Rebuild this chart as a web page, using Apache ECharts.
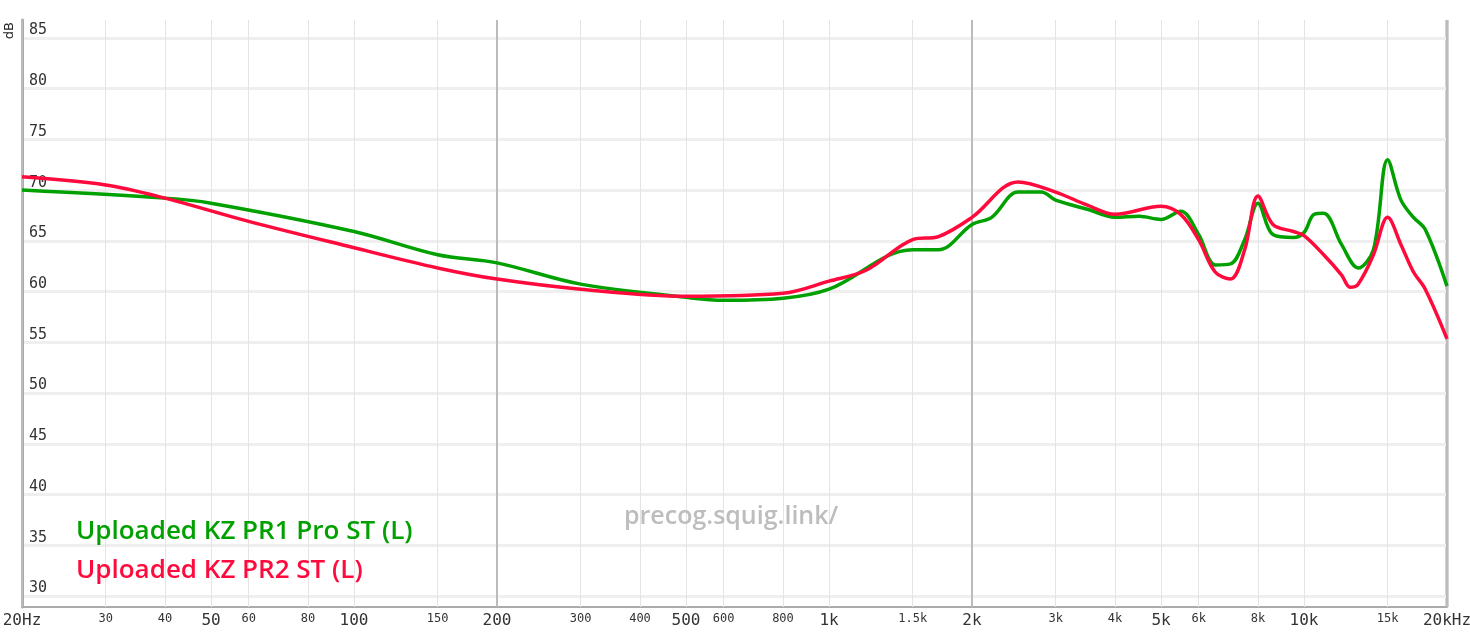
<!DOCTYPE html>
<html><head><meta charset="utf-8">
<script src="https://cdn.jsdelivr.net/npm/echarts@6/dist/echarts.min.js"></script>
<style>html,body{margin:0;background:#fff}#c{width:1470px;height:643px}</style>
</head><body><div id="c"></div>
<script>
const greenFreq = [20,40,50,100,150,200,300,500,600,800,1000,1500,1700,2000,2200,2500,2800,3000,3500,4000,4500,5000,5500,6000,6500,7000,7500,8000,8600,9500,10000,10500,11000,12000,13000,14000,15000,16000,17000,18000,20000];
const greenVals = [70.0,69.2,68.7,65.9,63.6,62.8,60.7,59.4,59.1,59.3,60.2,64.1,64.1,66.6,67.3,69.8,69.8,69.0,68.1,67.3,67.4,67.1,67.9,65.6,62.6,62.7,65.1,68.7,65.6,65.3,65.8,67.6,67.7,64.6,62.3,64.1,73.0,69.0,67.3,66.1,60.5];
const redFreq = [20,30,40,60,100,150,200,300,500,800,1000,1200,1500,1700,2000,2500,3000,3500,4000,5000,5500,6000,6500,7000,7500,8000,8600,9500,10000,11000,12000,12500,13000,14000,15000,16000,17000,18000,20000];
const redVals = [71.3,70.5,69.2,66.9,64.3,62.3,61.2,60.2,59.5,59.8,61.0,62.1,65.1,65.4,67.3,70.8,69.8,68.5,67.6,68.4,67.6,65.1,61.9,61.2,64.1,69.4,66.6,65.9,65.5,63.6,61.6,60.4,60.7,63.6,67.3,64.6,61.9,60.2,55.3];
const seriesNames = ['Uploaded KZ PR1 Pro ST (L)','Uploaded KZ PR2 ST (L)'];
const yTicks = [30,35,40,45,50,55,60,65,70,75,80,85];
const xTicks = [20,30,40,50,60,80,100,150,200,300,400,500,600,800,1000,1500,2000,3000,4000,5000,6000,8000,10000,15000,20000];
const xTickLabels = ['20Hz','30','40','50','60','80','100','150','200','300','400','500','600','800','1k','1.5k','2k','3k','4k','5k','6k','8k','10k','15k','20kHz'];
const bigLabels = ['50','100','500','1k','5k','10k'];
const majorLines = [20,200,2000,20000];

const vLines = xTicks.map((f,i)=>({
  xAxis:f,
  lineStyle:{color: majorLines.includes(f)?'#bbbbbb':'#e4e4e4', width: majorLines.includes(f)?2:1, type:'solid'},
  label:{show:true, position:'start', formatter:xTickLabels[i], distance:6,
    fontFamily:'DejaVu Sans Mono', color:'#333',
    fontSize: (bigLabels.includes(xTickLabels[i])||i==0||i==xTicks.length-1||majorLines.includes(f))?16:12}
}));
const chart = echarts.init(document.getElementById('c'));
chart.setOption({
  animation:false,
  grid:[
    {left:22,right:23,top:20,bottom:36},
    {left:22,right:23,top:38,bottom:47}
  ],
  xAxis:[
    {type:'log',logBase:10,min:20,max:20000,gridIndex:0,axisLine:{show:true,lineStyle:{color:'#aaa',width:2}},axisTick:{show:false},axisLabel:{show:false},splitLine:{show:false}},
    {type:'log',logBase:10,min:20,max:20000,gridIndex:1,show:false}
  ],
  yAxis:[
    {type:'value',min:28.8,max:86.8,gridIndex:0,axisLine:{show:true,lineStyle:{color:'#aaa',width:3}},axisTick:{show:false},axisLabel:{show:false},splitLine:{show:false}},
    {type:'value',min:30,max:85,interval:5,gridIndex:1,axisLine:{show:false},axisTick:{show:false},
     axisLabel:{inside:true,margin:7,verticalAlign:'bottom',fontFamily:'DejaVu Sans Mono',fontSize:15,color:'#333'},
     splitLine:{lineStyle:{color:'#efefef',width:3}}}
  ],
  legend:{show:true,orient:'vertical',left:66,top:514,itemGap:13,icon:'none',itemWidth:0,
    textStyle:{fontFamily:'Open Sans',fontSize:26,fontWeight:600},
    data:[{name:seriesNames[0],textStyle:{color:'#00a000'}},{name:seriesNames[1],textStyle:{color:'#ff0a3c'}}]},
  graphic:[
    {type:'text',left:624,top:504,z:10,style:{text:'precog.squig.link/',font:'600 25px "Open Sans"',fill:'#bdbdbd'}},
    {type:'text',left:3,top:22,rotation:Math.PI/2,style:{text:'dB',font:'13px "DejaVu Sans"',fill:'#222'}},
    {type:'line',shape:{x1:1447,y1:20,x2:1447,y2:607},style:{stroke:'#aaa',lineWidth:3}}
  ],
  series:[
    {name:seriesNames[0],type:'line',xAxisIndex:0,yAxisIndex:0,smooth:0.35,symbol:'none',
     data:greenFreq.map((f,i)=>[f,greenVals[i]]),lineStyle:{color:'#00a000',width:3.5},itemStyle:{color:'#00a000'},
     markLine:{silent:true,symbol:'none',data:vLines,z:1},z:3},
    {name:seriesNames[1],type:'line',xAxisIndex:0,yAxisIndex:0,smooth:0.35,symbol:'none',
     data:redFreq.map((f,i)=>[f,redVals[i]]),lineStyle:{color:'#ff0a3c',width:3.5},itemStyle:{color:'#ff0a3c'},z:4}
  ]
});
</script></body></html>
